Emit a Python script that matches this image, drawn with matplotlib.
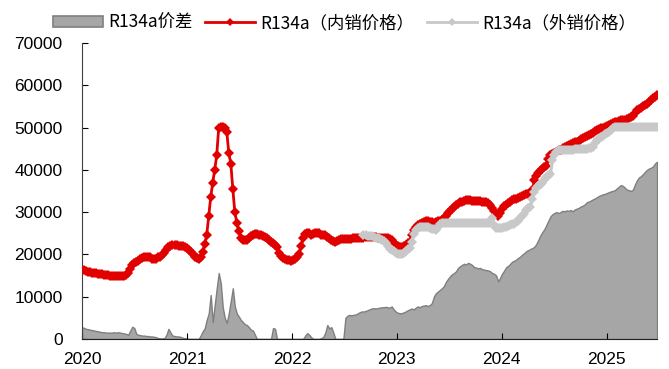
import pandas as pd
import matplotlib
matplotlib.use("Agg")
import matplotlib.pyplot as plt
import matplotlib.dates as mdates
from matplotlib.patches import Patch
from matplotlib.lines import Line2D

plt.rcParams['font.family'] = ['Liberation Sans', 'Noto Sans CJK SC', 'DejaVu Sans']

# weekly R134a prices (yuan/t), first week of 2020 to end of June 2025
domestic = [
    16300, 16200, 16000, 15900, 15800, 15700, 15600, 15500, 15400, 15300, 15300, 15200, 15100,
    15100, 15000, 15000, 15000, 15000, 15000, 15000, 15000, 15000, 15100, 15500, 16500, 17500,
    18000, 18200, 18500, 18800, 19100, 19300, 19500, 19400, 19300, 19000, 18900, 19000, 19300,
    19500, 19900, 20300, 21000, 21800, 22000, 22200, 22200, 22200, 22100, 22000, 22000, 21800,
    21500, 21100, 20600, 20000, 19500, 19100, 19000, 19300, 20500, 22500, 24500, 29000, 33500,
    37000, 40000, 43500, 50000, 50200, 50100, 49800, 49000, 44000, 41500, 35500, 30000, 27500,
    25500, 24000, 23500, 23300, 23500, 23900, 24400, 24700, 24800, 24800, 24700, 24500, 24300,
    24200, 24000, 23500, 23000, 22600, 22200, 21700, 20300, 19600, 19200, 18900, 18700, 18600,
    18500, 18600, 18800, 19300, 20200, 22000, 23800, 24800, 25000, 25000, 24700, 24800, 25000,
    25100, 25000, 24700, 24600, 24500, 24200, 23800, 23400, 23100, 23000, 23200, 23500, 23600,
    23600, 23600, 23700, 23700, 23700, 23800, 23800, 23800, 23800, 23900, 24000, 24100, 24100,
    24200, 24200, 24200, 24100, 24000, 24000, 23900, 24000, 23800, 23800, 23600, 23300, 22800,
    22300, 22000, 21800, 21800, 22000, 22200, 22800, 23000, 24500, 25800, 26500, 27000, 27300,
    27500, 27700, 27800, 27800, 27700, 27600, 27500, 27600, 27800, 28000, 28200, 28500, 29200,
    29800, 30300, 30800, 31300, 31700, 32000, 32300, 32500, 32700, 32800, 32800, 32800, 32700,
    32700, 32700, 32600, 32600, 32500, 32400, 32300, 32200, 31800, 31000, 30200, 29500, 29000,
    29800, 30800, 31400, 31800, 32200, 32500, 32800, 33000, 33200, 33400, 33600, 33800, 34000,
    34200, 34400, 34600, 35200, 37500, 38500, 39200, 39800, 40300, 40600, 41000, 42500, 43500,
    43800, 44000, 44300, 44600, 44800, 45100, 45400, 45700, 45900, 46100, 46300, 46500, 46700,
    46900, 47200, 47500, 47800, 48000, 48300, 48500, 48800, 49100, 49400, 49600, 49800, 50000,
    50200, 50400, 50600, 50800, 51000, 51200, 51400, 51500, 51700, 51800, 51900, 52000, 52200,
    52400, 52800, 53500, 54200, 54500, 54700, 55000, 55300, 55600, 56000, 56500, 57000, 57300, 57700,
]

# export quotes only start in autumn 2022
export = [
    24500, 24500, 24400,
    24400, 24300, 24200, 24000, 23800, 23600, 23400, 23100, 22600, 21900, 21300, 21000, 20700,
    20400, 20200, 20000, 20000, 20300, 20800, 21200, 21500, 23000, 24800, 25800, 26300, 26500,
    26600, 26600, 26500, 26400, 26200, 26000, 25900, 25800, 26500, 27300, 27400, 27400, 27400,
    27400, 27400, 27400, 27400, 27400, 27400, 27400, 27400, 27400, 27400, 27400, 27400, 27400,
    27400, 27400, 27400, 27400, 27400, 27400, 27400, 27400, 27500, 28600, 27000, 26300, 26200,
    26200, 26300, 26400, 26500, 26700, 26900, 27100, 27300, 27600, 28000, 28500, 29000, 29500,
    30500, 31000, 31300, 33000, 34800, 35600, 36200, 36400, 36800, 37500, 38200, 38600, 39000,
    42300, 43500, 44300, 44600, 44700, 44700, 44700, 44700, 44800, 44800, 44800, 44900, 44900,
    44900, 45000, 45000, 45000, 45000, 45100, 45100, 45300, 46300, 47000, 47400, 47700, 48000,
    48400, 48700, 49000, 49400, 49800, 50100, 50200, 50200, 50200, 50200, 50200, 50200, 50200,
    50200, 50200, 50200, 50200, 50200, 50200, 50200, 50200, 50200, 50200, 50200, 50200, 50200, 50200,
]

spread = [
    2800, 2600, 2400, 2300, 2200, 2100, 2000, 1900, 1800, 1700, 1600, 1600, 1500,
    1500, 1500, 1500, 1600, 1500, 1600, 1500, 1400, 1300, 1200, 1000, 2000, 2900,
    2600, 1200, 1000, 900, 800, 800, 700, 700, 600, 600, 500, 400, 200,
    100, 100, 200, 1000, 2400, 1500, 800, 700, 600, 600, 500, 300, 200,
    100, 0, 0, 0, 0, 0, 0, 800, 1800, 2500, 4500, 6000, 10400,
    4000, 8000, 12000, 15600, 13200, 7500, 5000, 3800, 6100, 9000, 12000, 7700, 6000,
    5300, 4500, 4000, 3500, 3300, 2800, 2200, 2000, 1000, 0, 0, 0, 0,
    0, 0, 0, 0, 2600, 2400, 0, 0, 0, 0, 0, 0, 0,
    0, 0, 0, 0, 0, 0, 0, 800, 1400, 1000, 400, 0, 0,
    0, 0, 200, 500, 1500, 3300, 2500, 2800, 1500, 0, 0, 0, 0,
    0, 5000, 5500, 5700, 5600, 5700, 5800, 6000, 6300, 6500, 6500, 6600, 6800,
    7000, 7200, 7300, 7200, 7300, 7400, 7500, 7500, 7600, 7500, 7400, 7700, 7000,
    6500, 6200, 6100, 6100, 6300, 6500, 6800, 7000, 7200, 7000, 7400, 7700, 7500,
    7800, 7900, 8000, 7800, 8000, 8500, 10000, 10800, 11200, 11600, 12000, 12500, 13500,
    14200, 14800, 15300, 15600, 16000, 16800, 17200, 17500, 17800, 17600, 18000, 17800, 17500,
    17000, 16900, 16700, 16800, 16500, 16400, 16300, 16200, 16000, 15600, 15400, 15000, 13600,
    14500, 15500, 16200, 17000, 17300, 17800, 18300, 18500, 18800, 19200, 19500, 20000, 20300,
    20800, 21000, 21300, 21500, 21800, 22500, 23500, 24500, 25300, 26000, 27000, 28000, 29000,
    29500, 29800, 30000, 29800, 30000, 30300, 30200, 30400, 30300, 30500, 30200, 30600, 30800,
    31000, 31300, 31500, 31800, 32300, 32500, 32700, 33000, 33200, 33500, 33800, 34000, 34200,
    34300, 34500, 34700, 34900, 35000, 35200, 35600, 36000, 36400, 36200, 35800, 35300, 35200,
    35000, 35300, 36500, 37500, 38200, 38500, 39000, 39500, 40000, 40300, 40500, 40800, 41500, 41900,
]

labels = ["R134a价差", "R134a（内销价格）", "R134a（外销价格）"]

dates = pd.date_range("2020-01-01", periods=len(domestic), freq="7D")
export_dates = dates[-len(export):]

red = "#e00000"
light = "#c8c8c8"

fig = plt.figure(figsize=(6.69, 3.69), dpi=100)
ax = fig.add_axes([0.1226, 0.0813, 0.8595, 0.8022])

ax.fill_between(dates, 0, spread, color="#a6a6a6", edgecolor="#7f7f7f", linewidth=1.0, zorder=1)
ax.plot(dates, domestic, color=red, lw=2, marker="D", ms=4.8, mew=0, zorder=3)
ax.plot(export_dates, export, color=light, lw=2.2, marker="D", ms=5, mew=0, zorder=4)

ax.set_ylim(0, 70000)
ax.set_yticks(range(0, 70001, 10000))
ax.set_xlim(dates[0], dates[-1])
ax.xaxis.set_major_locator(mdates.YearLocator())
ax.xaxis.set_major_formatter(mdates.DateFormatter("%Y"))

for side in ("top", "right"):
    ax.spines[side].set_visible(False)
ax.spines["left"].set_color("#404040")
ax.spines["bottom"].set_color("#202020")
ax.tick_params(axis="both", direction="in", length=4, labelsize=12.5, colors="black")
ax.tick_params(axis="y", pad=14)
ax.tick_params(axis="x", pad=9)

handles = [
    Patch(facecolor="#a6a6a6", edgecolor="#7f7f7f", linewidth=1.2),
    Line2D([], [], color=red, lw=2, marker="D", ms=4, mew=0),
    Line2D([], [], color=light, lw=2, marker="D", ms=4, mew=0),
]
fig.legend(handles, labels, loc="center left", bbox_to_anchor=(53 / 669, 1 - 23 / 369), ncol=3,
           frameon=False, prop={"family": ["Noto Sans CJK SC"], "size": 12.5},
           borderaxespad=0, borderpad=0,
           handlelength=2.9, handleheight=0.6, handletextpad=0.3, columnspacing=0.7)

fig.savefig("out.png", dpi=100)
